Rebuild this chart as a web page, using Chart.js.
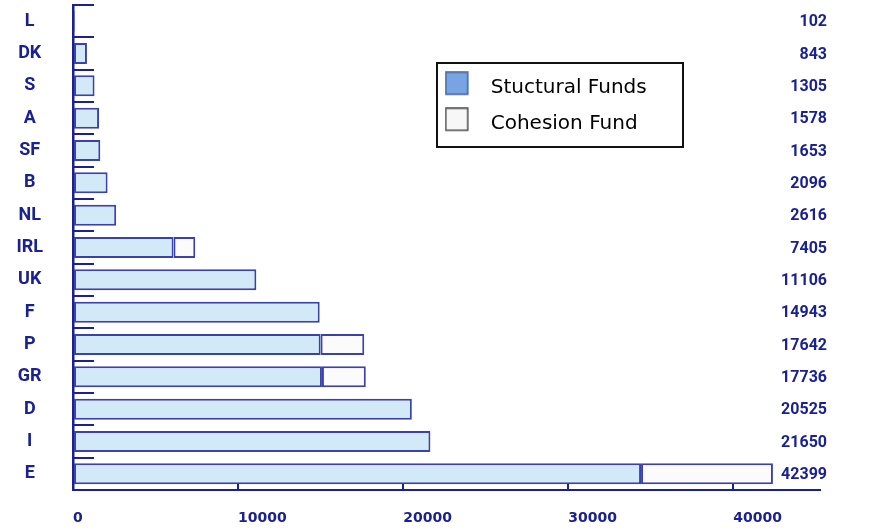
<!DOCTYPE html>
<html>
<head>
<meta charset="utf-8">
<script src="https://cdn.jsdelivr.net/npm/chart.js@4/dist/chart.umd.min.js"></script>
<style>
  html, body { margin: 0; padding: 0; background: #ffffff; }
  canvas { display: block; }
</style>
</head>
<body>
<canvas id="chart" width="891" height="530"></canvas>
<script>
// EU funding by member state (MECU)
const countries = ['L', 'DK', 'S', 'A', 'SF', 'B', 'NL', 'IRL', 'UK', 'F', 'P', 'GR', 'D', 'I', 'E'];
const structuralFunds = [102, 843, 1305, 1578, 1653, 2096, 2616, 6091, 11106, 14943, 15000, 15080, 20525, 21650, 34410];
const cohesionFund = [null, null, null, null, null, null, null, 1314, null, null, 2642, 2656, null, null, 7989];
const xTickValues = [0, 10000, 20000, 30000, 40000];
const seriesNames = ['Stuctural Funds', 'Cohesion Fund'];

const NAVY = '#1b2190';
const BAR_EDGE = '#3c40ab';
const BAR_FILL = '#d2e9f8';
const LABEL_FONT = 'Roboto, "Liberation Sans", sans-serif';

// legend swatches: square at the left of a wider transparent tile
function makeSwatch(fill, stroke) {
  const c = document.createElement('canvas');
  c.width = 36; c.height = 32;
  const g = c.getContext('2d');
  g.fillStyle = fill;
  g.fillRect(1, 1, 22, 22);
  g.strokeStyle = stroke;
  g.lineWidth = 1.5;
  g.strokeRect(1, 1, 22, 22);
  return c;
}
const swatches = [makeSwatch('#78a4e4', '#41609e'), makeSwatch('#f7f7f7', '#4a4a4a')];

// totals printed to the right of each bar
const totalsPlugin = {
  id: 'totals',
  afterDatasetsDraw(chart) {
    const ys = chart.scales.y;
    const ctx = chart.ctx;
    ctx.save();
    ctx.font = 'bold 16px ' + LABEL_FONT;
    ctx.fillStyle = NAVY;
    ctx.textAlign = 'right';
    ctx.textBaseline = 'middle';
    countries.forEach((c, i) => {
      const total = structuralFunds[i] + (cohesionFund[i] || 0);
      ctx.fillText(String(total), chart.width - 64, ys.getPixelForValue(i) + 1);
    });
    ctx.restore();
  }
};

// places the legend inside the plot and frames it
const legendFrame = {
  id: 'legendFrame',
  afterLayout(chart) {
    const lg = chart.legend;
    lg.left = 428.7; lg.top = 61.3;
    lg.width = 262; lg.height = 100;
    lg.right = lg.left + lg.width; lg.bottom = lg.top + lg.height;
  },
  afterDraw(chart) {
    const ctx = chart.ctx;
    ctx.save();
    ctx.strokeStyle = '#111111';
    ctx.lineWidth = 2;
    ctx.strokeRect(437, 63, 246, 84);
    ctx.restore();
  }
};

new Chart(document.getElementById('chart'), {
  type: 'bar',
  data: {
    labels: countries,
    datasets: [
      {
        label: seriesNames[0],
        data: structuralFunds,
        backgroundColor: BAR_FILL,
        borderColor: BAR_EDGE,
        borderWidth: 2,
        borderSkipped: false,
        barPercentage: 0.65,
        categoryPercentage: 1
      },
      {
        label: seriesNames[1],
        data: cohesionFund,
        backgroundColor: '#fbfbfb',
        borderColor: BAR_EDGE,
        borderWidth: 2,
        borderSkipped: false,
        barPercentage: 0.65,
        categoryPercentage: 1
      }
    ]
  },
  options: {
    indexAxis: 'y',
    responsive: false,
    maintainAspectRatio: false,
    devicePixelRatio: 1,
    animation: false,
    layout: { padding: { top: 5, right: 71, bottom: 0, left: 0 } },
    scales: {
      x: {
        type: 'linear',
        stacked: true,
        min: 0,
        max: 45250,
        afterBuildTicks: s => { s.ticks = xTickValues.map(v => ({ value: v })); },
        afterFit: s => { s.height = 40; s.paddingLeft = 0; s.paddingRight = 0; },
        border: { display: true, color: NAVY, width: 2 },
        grid: { display: true, drawOnChartArea: false, drawTicks: true, tickLength: -6, color: NAVY, lineWidth: 2 },
        ticks: {
          align: 'start',
          padding: 26,
          color: NAVY,
          font: { family: '"DejaVu Sans"', size: 14, weight: 'bold' },
          callback: v => String(v)
        }
      },
      y: {
        type: 'category',
        stacked: true,
        afterFit: s => { s.width = 73; s.paddingTop = 0; s.paddingBottom = 0; },
        border: { display: true, color: NAVY, width: 2.5 },
        grid: { display: true, drawOnChartArea: false, drawTicks: true, tickLength: -21, offset: true, color: NAVY, lineWidth: 2 },
        ticks: {
          autoSkip: false,
          crossAlign: 'center',
          padding: 51,
          color: NAVY,
          font: { family: LABEL_FONT, size: 18, weight: 'bold' }
        }
      }
    },
    plugins: {
      tooltip: { enabled: false },
      legend: {
        position: 'chartArea',
        fullSize: false,
        align: 'start',
        labels: {
          usePointStyle: true,
          pointStyleWidth: 36,
          padding: 16,
          color: '#111111',
          font: { family: '"DejaVu Sans"', size: 20 },
          generateLabels: () => seriesNames.map((name, i) => ({
            text: name,
            pointStyle: swatches[i],
            fillStyle: 'rgba(0,0,0,0)',
            strokeStyle: 'rgba(0,0,0,0)',
            lineWidth: 0,
            hidden: false,
            datasetIndex: i,
            textAlign: 'left'
          }))
        }
      }
    }
  },
  plugins: [totalsPlugin, legendFrame]
});
</script>
</body>
</html>
